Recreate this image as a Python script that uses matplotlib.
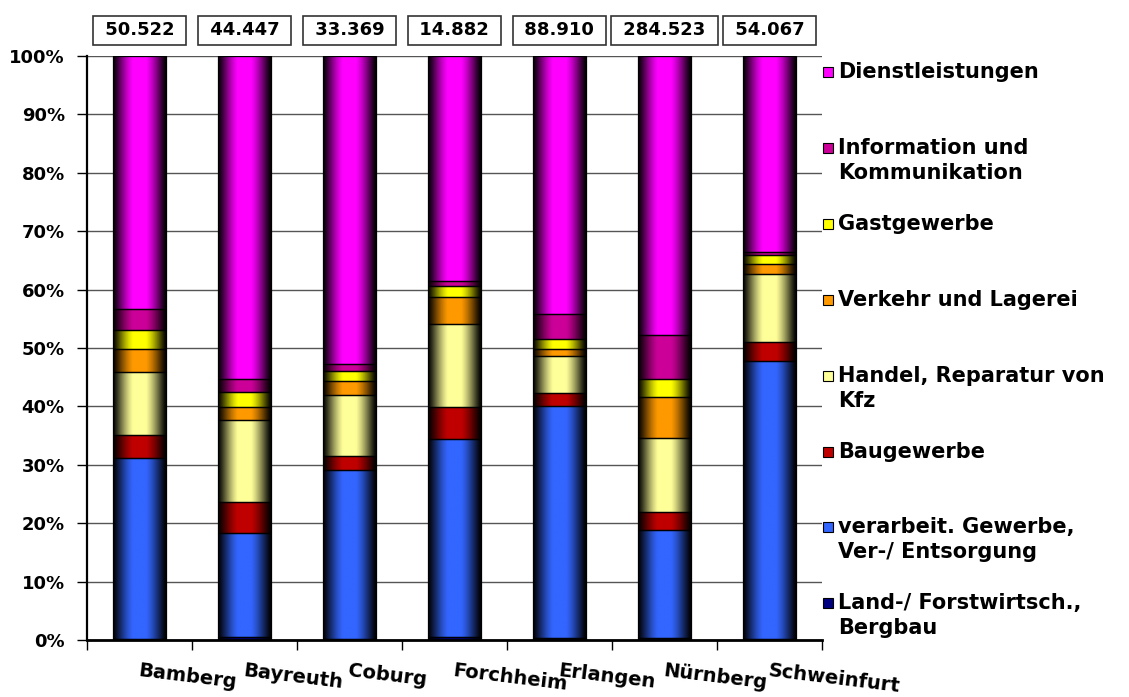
import numpy as np
import matplotlib
matplotlib.use("Agg")
import matplotlib.pyplot as plt
from matplotlib.colors import to_rgb
from matplotlib.patches import Rectangle

# ---------------- data ----------------
cities = ["Bamberg", "Bayreuth", "Coburg", "Forchheim", "Erlangen", "Nürnberg", "Schweinfurt"]
totals = [50522, 44447, 33369, 14882, 88910, 284523, 54067]

series_names = [
    "Land-/ Forstwirtsch.,\nBergbau",
    "verarbeit. Gewerbe,\nVer-/ Entsorgung",
    "Baugewerbe",
    "Handel, Reparatur von\nKfz",
    "Verkehr und Lagerei",
    "Gastgewerbe",
    "Information und\nKommunikation",
    "Dienstleistungen",
]
land = [0.2, 0.5, 0.2, 0.5, 0.3, 0.4, 0.2]
verarbeit = [30.9, 17.9, 28.9, 34.0, 39.8, 18.4, 47.6]
bau = [4.0, 5.3, 2.4, 5.4, 2.2, 3.1, 3.3]
handel = [10.8, 13.9, 10.5, 14.2, 6.3, 12.7, 11.6]
verkehr = [3.9, 2.3, 2.3, 4.6, 1.2, 7.0, 1.7]
gast = [3.2, 2.5, 1.8, 2.0, 1.7, 3.1, 1.6]
info = [3.7, 2.3, 1.2, 0.8, 4.3, 7.6, 0.5]
dienst = [43.3, 55.3, 52.7, 38.5, 44.2, 47.7, 33.5]
series_values = [land, verarbeit, bau, handel, verkehr, gast, info, dienst]
colors = ["#000080", "#3366FF", "#C00000", "#FFFF99", "#FF9900", "#FFFF00", "#CC0099", "#FF00FF"]
yticks = [0, 10, 20, 30, 40, 50, 60, 70, 80, 90, 100]

# ---------------- figure ----------------
W, H = 1129, 697
fig = plt.figure(figsize=(W / 100, H / 100), dpi=100)
ax = fig.add_axes([87 / W, 1 - 640 / H, (822 - 87) / W, (640 - 56) / H])
FONT = "DejaVu Sans"

x = np.arange(len(cities))
bar_w = 0.5


def shade_img(color, n=80):
    t = (np.arange(n) + 0.5) / n
    b = np.clip(1.1 * np.sin(np.pi * t) ** 1.2, 0.03, 1.0)
    rgb = np.array(to_rgb(color))
    return (rgb[None, :] * b[:, None])[None, :, :]


bottom = np.zeros(len(cities))
for vals, col in zip(series_values, colors):
    vals = np.array(vals, dtype=float)
    bars = ax.bar(x, vals, bar_w, bottom=bottom, facecolor="none",
                  edgecolor="black", linewidth=0.9, zorder=3)
    for p in bars.patches:
        x0, y0 = p.get_x(), p.get_y()
        ax.imshow(shade_img(col), extent=[x0, x0 + p.get_width(), y0, y0 + p.get_height()],
                  aspect="auto", interpolation="bilinear", zorder=2)
    bottom += vals

ax.set_xlim(-0.5, len(cities) - 0.5)
ax.set_ylim(0, 100)

# grid & spines
ax.set_yticks(yticks)
ax.set_yticklabels([f"{v}%" for v in yticks], fontsize=13, fontweight="bold", family=FONT)
ax.yaxis.grid(True, color="#555555", linewidth=1.0, zorder=0)
ax.set_axisbelow(True)
ax.tick_params(axis="y", length=7, width=1, direction="out", pad=9)
for s in ["top", "right"]:
    ax.spines[s].set_visible(False)
ax.spines["left"].set_linewidth(1.6)
ax.spines["bottom"].set_linewidth(2.0)

# x ticks: marks at category boundaries, labels at bar centres
ax.set_xticks(np.arange(-0.5, len(cities), 1.0), minor=True)
ax.set_xticks(x)
ax.set_xticklabels(cities, fontsize=14, fontweight="bold", family=FONT,
                   rotation=-7, rotation_mode="anchor", ha="left", va="top")
ax.tick_params(axis="x", which="major", length=0, pad=15)
ax.tick_params(axis="x", which="minor", length=7, width=1, direction="out")

# total boxes above bars
for xi, tot in zip(x, totals):
    ax.text(xi, 1.044, " " + f"{tot:,}".replace(",", ".") + " ", transform=ax.get_xaxis_transform(),
            ha="center", va="center", fontsize=13, fontweight="bold", family=FONT,
            bbox=dict(boxstyle="square,pad=0.32", facecolor="white", edgecolor="#333333", linewidth=1.2),
            clip_on=False)

# legend (reverse order, marker aligned with first line)
lx_marker = 823 / W
lx_text = 838 / W
y_first = 72
y_step = 75.9
line_h = 25
for i, (name, col) in enumerate(zip(series_names[::-1], colors[::-1])):
    ypix = y_first + i * y_step
    fig.add_artist(Rectangle((lx_marker, 1 - (ypix + 5) / H), 10 / W, 10 / H,
                             transform=fig.transFigure, facecolor=col,
                             edgecolor="black", linewidth=0.8))
    for k, line in enumerate(name.split("\n")):
        fig.text(lx_text, 1 - (ypix + k * line_h) / H, line, ha="left", va="center",
                 fontsize=15, fontweight="bold", family=FONT)

fig.savefig("out.png", dpi=100)
